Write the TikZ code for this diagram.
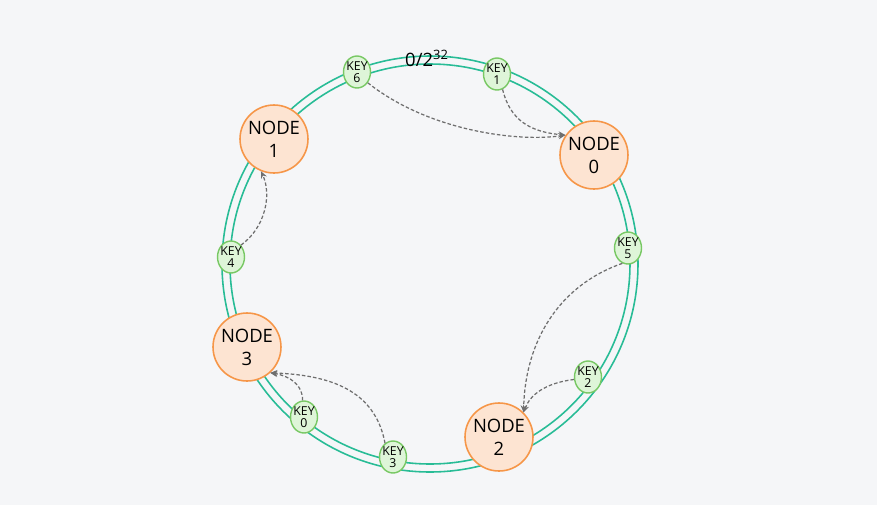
\documentclass[tikz,border=0pt]{standalone}
\usepackage{fontspec}
\setmainfont{Open Sans}
\usepackage{xcolor}
\usetikzlibrary{shapes.geometric,arrows.meta}
\definecolor{bgcol}{RGB}{245,246,248}
\definecolor{ringcol}{RGB}{40,188,150}
\definecolor{srvfill}{RGB}{253,228,210}
\definecolor{srvdraw}{RGB}{246,150,72}
\definecolor{keyfill}{RGB}{222,245,216}
\definecolor{keydraw}{RGB}{120,200,100}
\definecolor{linkcol}{RGB}{110,110,110}

\begin{document}
\begin{tikzpicture}[x=0.02cm, y=-0.02cm,
    ring/.style={ringcol, line width=0.9pt},
    server/.style={circle, draw=srvdraw, fill=srvfill, line width=0.9pt, minimum size=1.36cm, inner sep=0pt, align=center, font=\fontsize{10.5}{13}\selectfont},
    keynode/.style={ellipse, draw=keydraw, fill=keyfill, line width=0.8pt, minimum width=0.54cm, minimum height=0.64cm, inner xsep=-2pt, inner ysep=-1pt, align=center, font=\fontsize{7}{7.2}\selectfont},
    link/.style={linkcol, line width=0.7pt, dash pattern=on 2pt off 1.2pt, -{Stealth[length=4pt,width=3.5pt]}}]
        \fill[bgcol] (0,0) rectangle (877,505);
        \useasboundingbox (0,0) rectangle (877,505);

        % Кольцо
        \draw[ring] (430,264) circle[radius=208];
        \draw[ring] (430,264) circle[radius=200];
        \node[font=\fontsize{10.5}{12}\selectfont] (lbl) at (427,58) {0/2\textsuperscript{32}};

        % Узлы
        \node[server] (n0) at (594,155) {NODE\\0};
        \node[server] (n1) at (274,139) {NODE\\1};
        \node[server] (n2) at (499,437) {NODE\\2};
        \node[server] (n3) at (247,347) {NODE\\3};

        % Ключи
        \node[keynode] (k0) at (304,417) {KEY\\0};
        \node[keynode] (k1) at (497,74)  {KEY\\1};
        \node[keynode] (k2) at (588,377) {KEY\\2};
        \node[keynode] (k3) at (393,457) {KEY\\3};
        \node[keynode] (k4) at (231,257) {KEY\\4};
        \node[keynode] (k5) at (628,248) {KEY\\5};
        \node[keynode] (k6) at (357,72)  {KEY\\6};

        % Стрелки
        \draw[link] (k6.-45)  .. controls (430,132) and (520,142) .. (n0.145);
        \draw[link] (k1.-70)  .. controls (510,120) and (530,132) .. (n0.145);
        \draw[link] (k5.-110) .. controls (560,285) and (525,340) .. (n2.45);
        \draw[link] (k2.190)  .. controls (545,383) and (530,395) .. (n2.45);
        \draw[link] (k4.50)   .. controls (265,228) and (272,195) .. (n1.-112);
        \draw[link] (k0.95)   .. controls (303,385) and (290,376) .. (n3.-48);
        \draw[link] (k3.120)  .. controls (375,390) and (330,375) .. (n3.-48);
    \end{tikzpicture}
\end{document}
